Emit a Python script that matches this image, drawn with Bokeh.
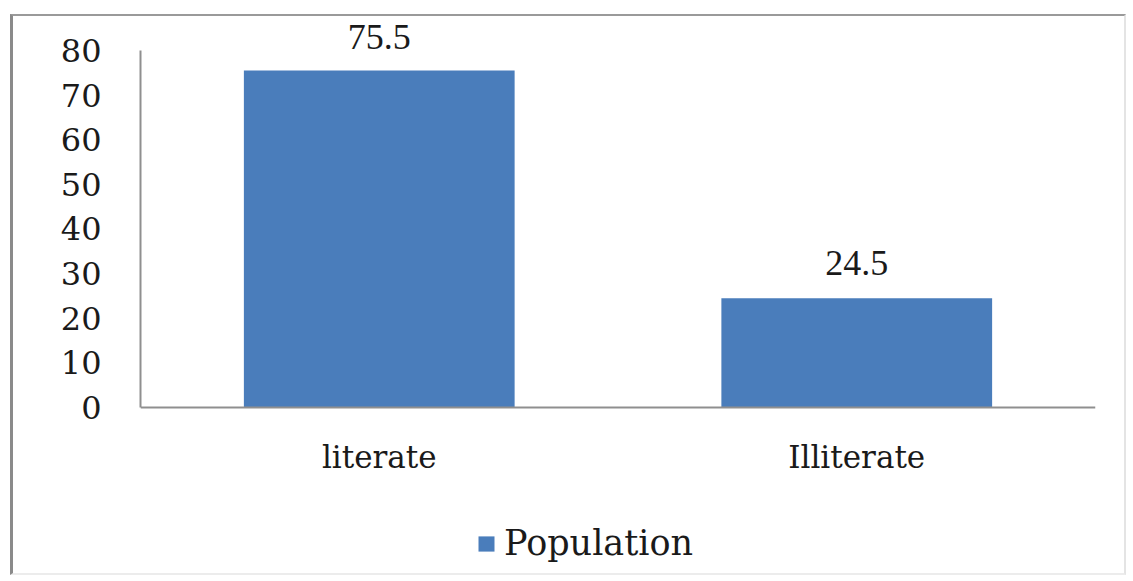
from bokeh.plotting import figure
from bokeh.models import (ColumnDataSource, FactorRange, Range1d, FixedTicker,
                          LabelSet, Legend, LegendItem)
from bokeh.embed import file_html
from bokeh.resources import INLINE

# Literacy split of the surveyed population (%)
categories = ["literate", "Illiterate"]
population = [75.5, 24.5]
value_labels = ["75.5", "24.5"]
y_ticks = [0, 10, 20, 30, 40, 50, 60, 70, 80]

SERIF = "DejaVu Serif"
BAR_COLOR = "#4a7dbb"
AXIS_COLOR = "#8f8f8f"
TEXT_COLOR = "#1a1a1a"

source = ColumnDataSource(data=dict(cat=categories, val=population,
                                    lab=value_labels, off=[22, 23]))

# The plotting frame reaches below zero so the legend sits inside it;
# the value axis itself is bounded to 0..80.
p = figure(width=1116, height=561, x_range=FactorRange(*categories),
           y_range=Range1d(-37.65, 86.72), output_backend="svg",
           toolbar_location=None,
           min_border_left=127, min_border_right=34, min_border_top=4,
           min_border_bottom=2)
p.x_range.range_padding = 0
p.background_fill_color = "white"
p.border_fill_color = "white"
p.outline_line_color = None
p.grid.visible = False

# chart-area border drawn around the figure
p.styles = {
    "margin-left": "10px",
    "margin-top": "14px",
    "border-left": "3px solid #8a8a8a",
    "border-top": "2px solid #9a9a9a",
    "border-right": "2px solid #e4e4e4",
    "border-bottom": "2px solid #ececec",
}

bars = p.vbar(x="cat", top="val", width=0.567, bottom=0, source=source,
              fill_color=BAR_COLOR, line_color=None)

# value labels above each bar
p.add_layout(LabelSet(x="cat", y="val", text="lab", y_offset="off", source=source,
                      text_align="center", text_baseline="alphabetic",
                      text_font=SERIF, text_font_size="36px", text_color=TEXT_COLOR))

# axes
p.yaxis.ticker = FixedTicker(ticks=y_ticks)
p.yaxis.bounds = (0, 80)
p.xaxis.fixed_location = 0
for ax in (p.xaxis[0], p.yaxis[0]):
    ax.axis_line_color = AXIS_COLOR
    ax.axis_line_width = 2
    ax.major_tick_line_color = None
    ax.minor_tick_line_color = None
    ax.major_tick_out = 0
    ax.major_tick_in = 0
    ax.major_label_text_font = SERIF
    ax.major_label_text_color = TEXT_COLOR
p.yaxis.major_label_text_font_size = "32px"
p.yaxis.major_label_standoff = 39
p.xaxis.major_label_text_font_size = "31px"
p.xaxis.major_label_standoff = 32

# legend under the category labels
legend = Legend(items=[LegendItem(label="Population", renderers=[bars])],
                location=(336, 12), orientation="horizontal",
                glyph_width=20, glyph_height=19, label_standoff=8,
                label_text_font=SERIF, label_text_font_size="35px",
                label_text_color=TEXT_COLOR, padding=0, margin=0,
                border_line_color=None, background_fill_alpha=0)
p.add_layout(legend, "center")

open("out.html", "w").write(file_html(p, INLINE))
